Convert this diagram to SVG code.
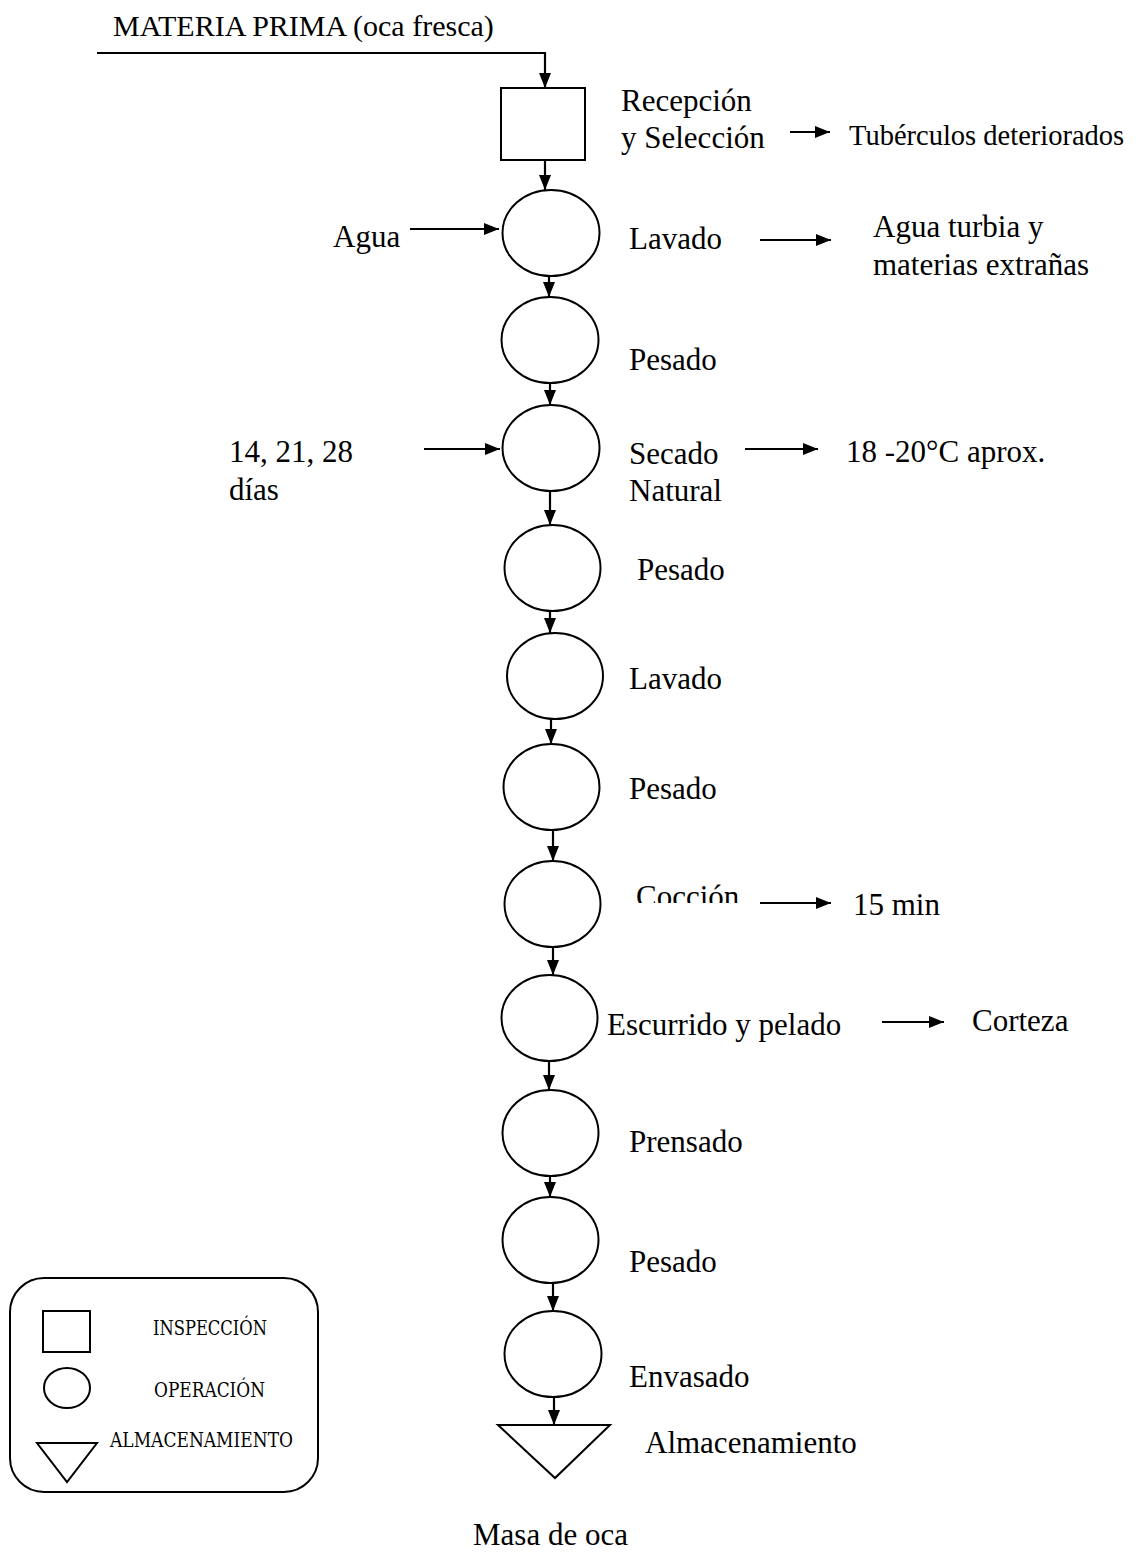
<svg xmlns="http://www.w3.org/2000/svg" width="1142" height="1556" viewBox="0 0 1142 1556">
  <style>
    .shape { fill: #ffffff; stroke: #000000; stroke-width: 2; }
    .link { fill: none; stroke: #000000; stroke-width: 2.2; }
    .lbl { font-family: "Liberation Serif", "Times New Roman", serif; font-size: 31px; fill: #000000; }
    .small { font-size: 28.5px; }
    .key { font-family: "DejaVu Serif Condensed", "DejaVu Serif", "Liberation Serif", serif; font-size: 20px; fill: #000000; }
  </style>
  <defs>
    <marker id="arrow" viewBox="0 0 15 12" refX="15" refY="6" markerWidth="15" markerHeight="12" markerUnits="userSpaceOnUse" orient="auto">
      <path d="M0,0 L15,6 L0,12 z" fill="#000000"/>
    </marker>
    <clipPath id="cut-coccion">
      <rect x="600" y="860" width="160" height="43"/>
    </clipPath>
  </defs>

  <rect width="1142" height="1556" fill="#ffffff"/>

  <!-- title / raw material input -->
  <text class="lbl" x="113" y="36" style="font-size:30px">MATERIA PRIMA (oca fresca)</text>

  <!-- process nodes -->
  <g id="recepcion">
    <rect class="shape" x="501" y="88" width="84" height="72"/>
    <text class="lbl" x="621" y="111">Recepción</text>
    <text class="lbl" x="621" y="148">y Selección</text>
  </g>
  <g id="lavado1">
    <ellipse class="shape" cx="551" cy="233" rx="48.5" ry="43"/>
    <text class="lbl" x="629" y="249">Lavado</text>
  </g>
  <g id="pesado1">
    <ellipse class="shape" cx="550" cy="340" rx="48.5" ry="43"/>
    <text class="lbl" x="629" y="370">Pesado</text>
  </g>
  <g id="secado">
    <ellipse class="shape" cx="551" cy="448" rx="48.5" ry="43"/>
    <text class="lbl" x="629" y="464">Secado</text>
    <text class="lbl" x="629" y="501">Natural</text>
  </g>
  <g id="pesado2">
    <ellipse class="shape" cx="552.5" cy="568" rx="48" ry="43"/>
    <text class="lbl" x="637" y="580">Pesado</text>
  </g>
  <g id="lavado2">
    <ellipse class="shape" cx="555" cy="676" rx="48" ry="43"/>
    <text class="lbl" x="629" y="689">Lavado</text>
  </g>
  <g id="pesado3">
    <ellipse class="shape" cx="551.5" cy="787" rx="48" ry="43"/>
    <text class="lbl" x="629" y="799">Pesado</text>
  </g>
  <g id="coccion">
    <ellipse class="shape" cx="552.5" cy="904" rx="48" ry="43"/>
    <text class="lbl" x="636" y="907" clip-path="url(#cut-coccion)">Cocción</text>
  </g>
  <g id="escurrido">
    <ellipse class="shape" cx="549.5" cy="1018" rx="48" ry="43"/>
    <text class="lbl" x="607" y="1035">Escurrido y pelado</text>
  </g>
  <g id="prensado">
    <ellipse class="shape" cx="550.5" cy="1133" rx="48" ry="43"/>
    <text class="lbl" x="629" y="1152">Prensado</text>
  </g>
  <g id="pesado4">
    <ellipse class="shape" cx="550.5" cy="1240" rx="48" ry="43"/>
    <text class="lbl" x="629" y="1272">Pesado</text>
  </g>
  <g id="envasado">
    <ellipse class="shape" cx="553" cy="1354" rx="48.5" ry="43"/>
    <text class="lbl" x="629" y="1387">Envasado</text>
  </g>
  <g id="almacenamiento">
    <polygon class="shape" points="498,1425 610,1425 555,1478"/>
    <text class="lbl" x="645" y="1453">Almacenamiento</text>
  </g>

  <!-- inputs, outputs and conditions -->
  <g id="side-notes">
    <text class="lbl small" x="849" y="145">Tubérculos deteriorados</text>
    <text class="lbl" x="333" y="247">Agua</text>
    <text class="lbl" x="873" y="237">Agua turbia y</text>
    <text class="lbl" x="873" y="275">materias extrañas</text>
    <text class="lbl" x="229" y="462">14, 21, 28</text>
    <text class="lbl" x="229" y="500">días</text>
    <text class="lbl" x="846" y="462">18 -20°C aprox.</text>
    <text class="lbl" x="853" y="915">15 min</text>
    <text class="lbl" x="972" y="1031">Corteza</text>
    <text class="lbl" x="473" y="1545">Masa de oca</text>
  </g>

  <!-- connectors -->
  <g id="connectors">
    <polyline class="link" points="97,53 545,53 545,88" marker-end="url(#arrow)"/>
    <line class="link" x1="545" y1="160" x2="545" y2="190" marker-end="url(#arrow)"/>
    <line class="link" x1="549" y1="276" x2="549" y2="297" marker-end="url(#arrow)"/>
    <line class="link" x1="550" y1="383" x2="550" y2="405" marker-end="url(#arrow)"/>
    <line class="link" x1="550" y1="491" x2="550" y2="525" marker-end="url(#arrow)"/>
    <line class="link" x1="550" y1="611" x2="550" y2="633" marker-end="url(#arrow)"/>
    <line class="link" x1="551" y1="719" x2="551" y2="744" marker-end="url(#arrow)"/>
    <line class="link" x1="553" y1="830" x2="553" y2="861" marker-end="url(#arrow)"/>
    <line class="link" x1="553" y1="947" x2="553" y2="975" marker-end="url(#arrow)"/>
    <line class="link" x1="549" y1="1061" x2="549" y2="1090" marker-end="url(#arrow)"/>
    <line class="link" x1="550" y1="1176" x2="550" y2="1197" marker-end="url(#arrow)"/>
    <line class="link" x1="553" y1="1283" x2="553" y2="1311" marker-end="url(#arrow)"/>
    <line class="link" x1="554" y1="1397" x2="554" y2="1425" marker-end="url(#arrow)"/>

    <line class="link" x1="790" y1="132" x2="830" y2="132" marker-end="url(#arrow)"/>
    <line class="link" x1="410" y1="229" x2="499" y2="229" marker-end="url(#arrow)"/>
    <line class="link" x1="760" y1="240" x2="831" y2="240" marker-end="url(#arrow)"/>
    <line class="link" x1="424" y1="449" x2="500" y2="449" marker-end="url(#arrow)"/>
    <line class="link" x1="745" y1="449" x2="818" y2="449" marker-end="url(#arrow)"/>
    <line class="link" x1="760" y1="903" x2="831" y2="903" marker-end="url(#arrow)"/>
    <line class="link" x1="882" y1="1022" x2="944" y2="1022" marker-end="url(#arrow)"/>
  </g>

  <!-- symbol key -->
  <g id="legend">
    <rect class="shape" x="10" y="1278" width="308" height="214" rx="34" ry="34"/>
    <rect class="shape" x="43" y="1311" width="47" height="41"/>
    <ellipse class="shape" cx="67" cy="1388" rx="23" ry="20"/>
    <polygon class="shape" points="37,1443 97,1443 67,1482"/>
    <text class="key" x="153" y="1335" textLength="114" lengthAdjust="spacingAndGlyphs">INSPECCIÓN</text>
    <text class="key" x="154" y="1397" textLength="111" lengthAdjust="spacingAndGlyphs">OPERACIÓN</text>
    <text class="key" x="110" y="1447" textLength="183" lengthAdjust="spacingAndGlyphs">ALMACENAMIENTO</text>
  </g>
</svg>
